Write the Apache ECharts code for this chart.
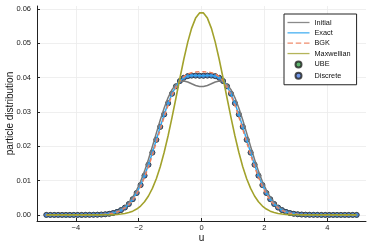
<!DOCTYPE html>
<html><head><meta charset="utf-8">
<script src="https://cdn.jsdelivr.net/npm/echarts@6/dist/echarts.min.js"></script>
<style>html,body{margin:0;padding:0;background:#fff}#c{width:374px;height:249px}</style>
</head><body><div id="c"></div>
<script>
const u = [-4.9375,-4.8125,-4.6875,-4.5625,-4.4375,-4.3125,-4.1875,-4.0625,-3.9375,-3.8125,-3.6875,-3.5625,-3.4375,-3.3125,-3.1875,-3.0625,-2.9375,-2.8125,-2.6875,-2.5625,-2.4375,-2.3125,-2.1875,-2.0625,-1.9375,-1.8125,-1.6875,-1.5625,-1.4375,-1.3125,-1.1875,-1.0625,-0.9375,-0.8125,-0.6875,-0.5625,-0.4375,-0.3125,-0.1875,-0.0625,
0.0625,0.1875,0.3125,0.4375,0.5625,0.6875,0.8125,0.9375,1.0625,1.1875,1.3125,1.4375,1.5625,1.6875,1.8125,1.9375,2.0625,2.1875,2.3125,2.4375,2.5625,2.6875,2.8125,2.9375,3.0625,3.1875,3.3125,3.4375,3.5625,3.6875,3.8125,3.9375,4.0625,4.1875,4.3125,4.4375,4.5625,4.6875,4.8125,4.9375];

const initial = [0,0,0,0,0,0,0,0,0,0,0.00001,0.00002,0.00003,0.00006,0.00012,0.00021,0.00037,0.00062,0.001,0.00159,0.00242,0.0036,0.00517,0.0072,0.00973,0.01274,0.01618,0.01993,0.02381,0.02763,0.03115,0.03415,0.03647,0.03802,0.03883,0.03899,0.0387,0.03818,0.03768,0.03737,
0.03737,0.03768,0.03818,0.0387,0.03899,0.03883,0.03802,0.03647,0.03415,0.03115,0.02763,0.02381,0.01993,0.01618,0.01274,0.00973,0.0072,0.00517,0.0036,0.00242,0.00159,0.001,0.00062,0.00037,0.00021,0.00012,0.00006,0.00003,0.00002,0.00001,0,0,0,0,0,0,0,0,0,0];

const exact = [0,0,0,0,0,0,0,0,0,0,0.00001,0.00001,0.00003,0.00006,0.0001,0.00018,0.00032,0.00054,0.00088,0.00139,0.00213,0.00317,0.00457,0.00639,0.00868,0.01143,0.01461,0.01813,0.02186,0.02563,0.02925,0.03252,0.03528,0.03743,0.03897,0.03992,0.0404,0.04056,0.04056,0.04052,
0.04052,0.04056,0.04056,0.0404,0.03992,0.03897,0.03743,0.03528,0.03252,0.02925,0.02563,0.02186,0.01813,0.01461,0.01143,0.00868,0.00639,0.00457,0.00317,0.00213,0.00139,0.00088,0.00054,0.00032,0.00018,0.0001,0.00006,0.00003,0.00001,0.00001,0,0,0,0,0,0,0,0,0,0];

const bgk = [0,0,0,0,0,0,0,0,0,0,0.00001,0.00001,0.00003,0.00005,0.0001,0.00017,0.0003,0.00051,0.00083,0.00132,0.00202,0.00301,0.00435,0.0061,0.0083,0.01095,0.01404,0.01748,0.02116,0.02491,0.02856,0.03193,0.03485,0.03723,0.03902,0.04025,0.04102,0.04142,0.0416,0.04166,
0.04166,0.0416,0.04142,0.04102,0.04025,0.03902,0.03723,0.03485,0.03193,0.02856,0.02491,0.02116,0.01748,0.01404,0.01095,0.0083,0.0061,0.00435,0.00301,0.00202,0.00132,0.00083,0.00051,0.0003,0.00017,0.0001,0.00005,0.00003,0.00001,0.00001,0,0,0,0,0,0,0,0,0,0];

const maxwellian = [0,0,0,0,0,0,0,0,0,0,0,0,0,0.00001,0.00001,0.00002,0.00004,0.00008,0.00014,0.00025,0.00042,0.00069,0.00109,0.0017,0.00258,0.00382,0.0055,0.00771,0.01054,0.01404,0.01822,0.02303,0.02837,0.03404,0.03979,0.04532,0.0503,0.05439,0.0573,0.05881,
0.05881,0.0573,0.05439,0.0503,0.04532,0.03979,0.03404,0.02837,0.02303,0.01822,0.01404,0.01054,0.00771,0.0055,0.00382,0.00258,0.0017,0.00109,0.00069,0.00042,0.00025,0.00014,0.00008,0.00004,0.00002,0.00001,0.00001,0,0,0,0,0,0,0,0,0,0,0,0,0];

const ube = [0,0,0,0,0,0,0,0,0,0,0.00001,0.00001,0.00003,0.00006,0.0001,0.00018,0.00032,0.00054,0.00088,0.00139,0.00213,0.00317,0.00457,0.00639,0.00868,0.01143,0.01461,0.01813,0.02186,0.02563,0.02925,0.03252,0.03528,0.03743,0.03897,0.03992,0.0404,0.04056,0.04056,0.04052,
0.04052,0.04056,0.04056,0.0404,0.03992,0.03897,0.03743,0.03528,0.03252,0.02925,0.02563,0.02186,0.01813,0.01461,0.01143,0.00868,0.00639,0.00457,0.00317,0.00213,0.00139,0.00088,0.00054,0.00032,0.00018,0.0001,0.00006,0.00003,0.00001,0.00001,0,0,0,0,0,0,0,0,0,0];

const discrete = [0,0,0,0,0,0,0,0,0,0,0.00001,0.00001,0.00003,0.00006,0.0001,0.00018,0.00032,0.00054,0.00088,0.00139,0.00213,0.00317,0.00457,0.00639,0.00868,0.01143,0.01461,0.01813,0.02186,0.02563,0.02925,0.03252,0.03528,0.03743,0.03897,0.03992,0.0404,0.04056,0.04056,0.04052,
0.04052,0.04056,0.04056,0.0404,0.03992,0.03897,0.03743,0.03528,0.03252,0.02925,0.02563,0.02186,0.01813,0.01461,0.01143,0.00868,0.00639,0.00457,0.00317,0.00213,0.00139,0.00088,0.00054,0.00032,0.00018,0.0001,0.00006,0.00003,0.00001,0.00001,0,0,0,0,0,0,0,0,0,0];

const xTicks = [-4, -2, 0, 2, 4];
const yTicks = [0, 0.01, 0.02, 0.03, 0.04, 0.05, 0.06];
const names = ['Initial', 'Exact', 'BGK', 'Maxwellian', 'UBE', 'Discrete'];

const FONT = 'Liberation Sans, Arial, sans-serif';
const pair = arr => u.map((x, i) => [x, arr[i]]);

const solidIcon = 'path://M0,0h22v1.3h-22z';
const dashIcon = 'path://M0,0h5.5v1.3h-5.5z M8.25,0h5.5v1.3h-5.5z M16.5,0h5.5v1.3h-5.5z';

const chart = echarts.init(document.getElementById('c'), null, {renderer: 'canvas'});
chart.setOption({
  animation: false,
  backgroundColor: '#fff',
  grid: {left: 37, right: 8, top: 6, bottom: 28, containLabel: false, outerBoundsMode: 'none'},
  xAxis: {
    type: 'value', min: -5.234, max: 5.234,
    name: 'u', nameLocation: 'middle', nameGap: 12, nameMoveOverlap: false,
    nameTextStyle: {fontSize: 10, color: '#111', fontFamily: FONT},
    axisLine: {onZero: false, lineStyle: {color: '#222', width: 1}},
    axisTick: {inside: true, length: 3, customValues: xTicks, lineStyle: {color: '#222', width: 1}},
    axisLabel: {customValues: xTicks, fontSize: 7.5, color: '#222', margin: 3, fontFamily: FONT,
      formatter: v => String(v).replace('-', '\u2212')},
    splitLine: {show: true, lineStyle: {color: '#ebebeb', width: 0.8}}
  },
  yAxis: {
    type: 'value', min: -0.00178, max: 0.06082,
    name: 'particle distribution', nameLocation: 'middle', nameGap: 22, nameRotate: 90, nameMoveOverlap: false,
    nameTextStyle: {fontSize: 10, color: '#111', fontFamily: FONT},
    axisLine: {show: true, onZero: false, lineStyle: {color: '#222', width: 1}},
    axisTick: {show: true, inside: true, length: 3, customValues: yTicks, lineStyle: {color: '#222', width: 1}},
    axisLabel: {customValues: yTicks, fontSize: 7.5, color: '#222', margin: 6, fontFamily: FONT,
      formatter: v => v.toFixed(2)},
    splitLine: {show: true, lineStyle: {color: '#ebebeb', width: 0.8}}
  },
  legend: {
    orient: 'vertical', left: 284, top: 14,
    padding: [5, 6, 5, 3.5],
    borderColor: '#222', borderWidth: 1, backgroundColor: '#fff',
    itemWidth: 22, itemHeight: 6, itemGap: 3.35,
    textStyle: {fontSize: 7.3, lineHeight: 6, color: '#111', fontFamily: FONT},
    data: [
      {name: 'Initial', icon: solidIcon},
      {name: 'Exact', icon: solidIcon},
      {name: 'BGK', icon: dashIcon},
      {name: 'Maxwellian', icon: solidIcon},
      {name: 'UBE'},
      {name: 'Discrete'}
    ]
  },
  series: [
    {name: 'Initial', type: 'line', data: pair(initial), symbol: 'none', lineStyle: {color: '#7a7a7a', width: 1.5}, itemStyle: {color: '#8a8a8a'}},
    {name: 'Exact', type: 'line', data: pair(exact), symbol: 'none', lineStyle: {color: '#2ea6f2', width: 1.5}, itemStyle: {color: '#47b0f2'}},
    {name: 'BGK', type: 'line', data: pair(bgk), symbol: 'none', lineStyle: {color: '#ef7f5c', width: 1.5, type: [4, 3]}, itemStyle: {color: '#f08c6c'}},
    {name: 'Maxwellian', type: 'line', data: pair(maxwellian), symbol: 'none', lineStyle: {color: '#a2a22c', width: 1.6}, itemStyle: {color: '#b4b45a'}},
    {name: 'UBE', type: 'scatter', data: pair(ube), symbol: 'circle', symbolSize: 5, itemStyle: {color: '#37a04a', borderColor: '#222', borderWidth: 0.7}},
    {name: 'Discrete', type: 'scatter', data: pair(discrete), symbol: 'circle', symbolSize: 5, itemStyle: {color: '#4d7ce0', borderColor: '#222', borderWidth: 0.7}}
  ]
});
</script>
</body></html>
